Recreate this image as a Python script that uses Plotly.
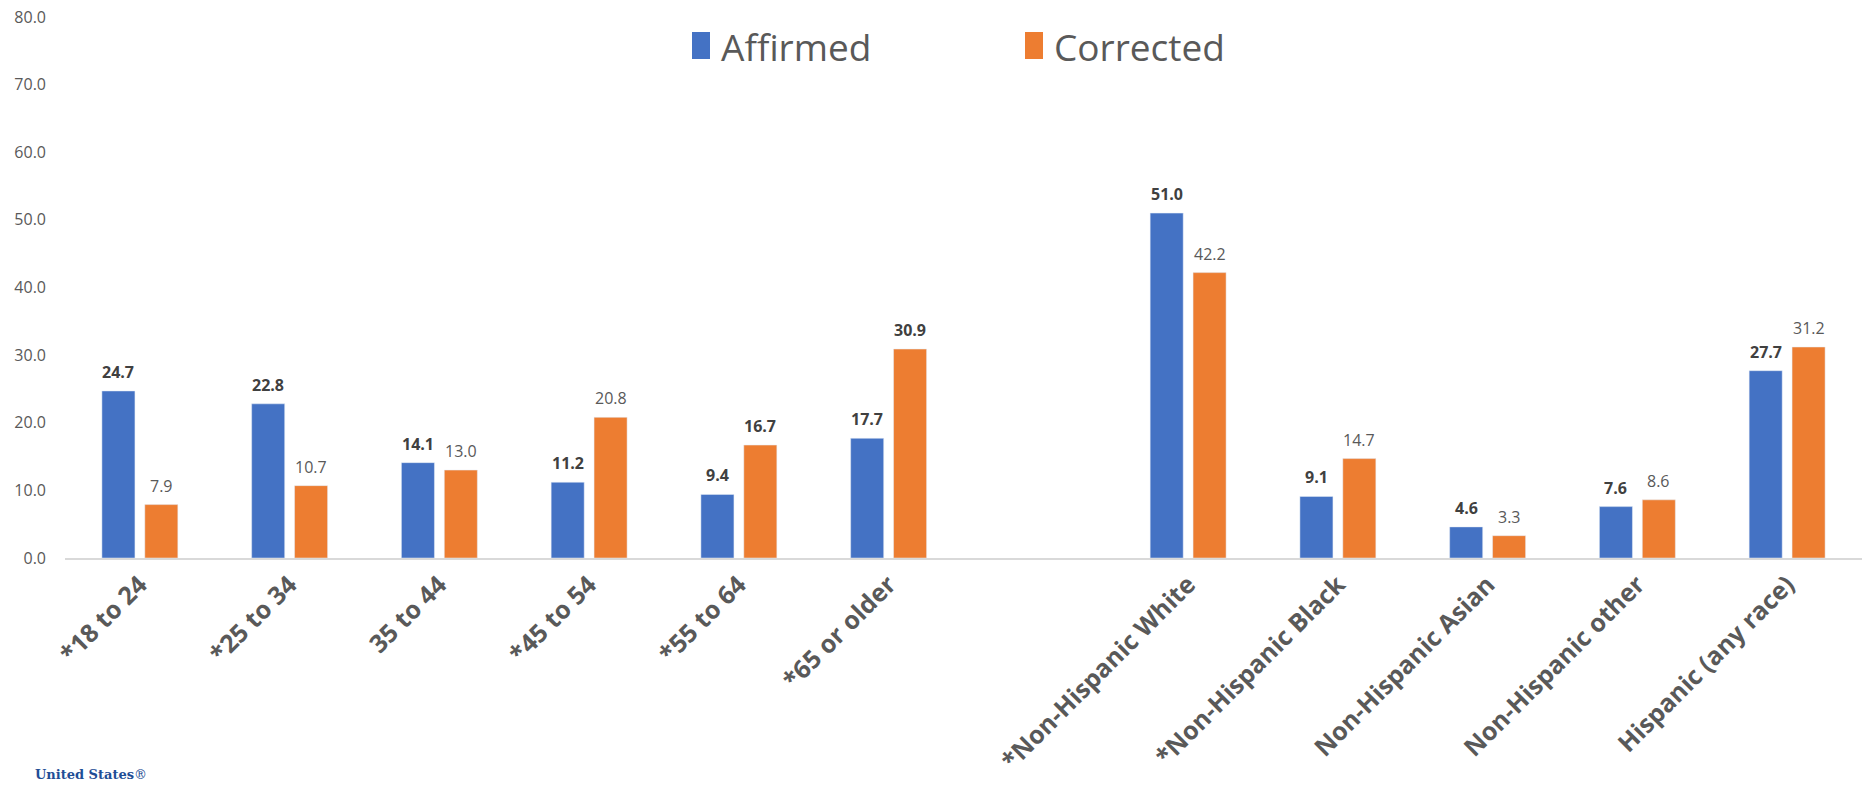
import plotly.graph_objects as go

# Category labels (one blank slot separates age groups from race groups)
categories = ["*18 to 24", "*25 to 34", "35 to 44", "*45 to 54", "*55 to 64", "*65 or older",
              " ",
              "*Non-Hispanic White", "*Non-Hispanic Black", "Non-Hispanic Asian",
              "Non-Hispanic other", "Hispanic (any race)"]

affirmed = [24.7, 22.8, 14.1, 11.2, 9.4, 17.7, None, 51.0, 9.1, 4.6, 7.6, 27.7]
corrected = [7.9, 10.7, 13.0, 20.8, 16.7, 30.9, None, 42.2, 14.7, 3.3, 8.6, 31.2]
corrected_bold = [False, False, False, False, True, True, False, False, False, False, False, False]

y_ticks = [0, 10, 20, 30, 40, 50, 60, 70, 80]

BLUE = "#4472C4"
ORANGE = "#ED7D31"
DARK = "#404040"
GRAY = "#595959"
FONT = "Open Sans"

W, H = 1864, 785
ML, MR, MT, MB = 65, 2, 17, 227
PW, PH = W - ML - MR, H - MT - MB


def px_x(p):
    return (p - ML) / PW


def px_y(p):
    return (H - MB - p) / PH


fig = go.Figure()
fig.add_trace(go.Bar(name="Affirmed", x=categories, y=affirmed, marker_color=BLUE,
                     showlegend=False))
fig.add_trace(go.Bar(name="Corrected", x=categories, y=corrected, marker_color=ORANGE,
                     showlegend=False))

slot = PW / len(categories) * (1 - 0.427) / 2
annotations = []
for cat, a, c, cb in zip(categories, affirmed, corrected, corrected_bold):
    if a is not None:
        annotations.append(dict(x=cat, y=a, xref="x", yref="y", text=f"<b>{a:.1f}</b>",
                                showarrow=False, yanchor="bottom", xshift=-slot / 2, yshift=6,
                                font=dict(family=FONT, size=16, color=DARK)))
    if c is not None:
        txt = f"<b>{c:.1f}</b>" if cb else f"{c:.1f}"
        annotations.append(dict(x=cat, y=c, xref="x", yref="y", text=txt,
                                showarrow=False, yanchor="bottom", xshift=slot / 2, yshift=6,
                                font=dict(family=FONT, size=16, color=DARK if cb else GRAY)))

# Legend drawn at the top centre
legend_items = [("Affirmed", BLUE, 692), ("Corrected", ORANGE, 1025)]
shapes = []
for name, color, x0 in legend_items:
    shapes.append(dict(type="rect", xref="paper", yref="paper",
                       x0=px_x(x0), x1=px_x(x0 + 18), y0=px_y(59), y1=px_y(32),
                       fillcolor=color, line_width=0))
    annotations.append(dict(x=px_x(x0 + 27), y=px_y(46), xref="paper", yref="paper",
                            text=name, showarrow=False, xanchor="left", yanchor="middle",
                            font=dict(family=FONT, size=37, color=GRAY)))

# Agency wordmark at the lower left edge
annotations.append(dict(x=px_x(33), y=px_y(784), xref="paper", yref="paper",
                        text="<b>United States</b>®", showarrow=False, xanchor="left",
                        yanchor="bottom", font=dict(family="DejaVu Serif", size=13,
                                                    color="#1F4E96")))

fig.update_layout(
    width=W, height=H,
    margin=dict(l=ML, r=MR, t=MT, b=MB),
    paper_bgcolor="white", plot_bgcolor="white",
    barmode="group", bargap=0.427, bargroupgap=0.23,
    annotations=annotations, shapes=shapes,
    xaxis=dict(type="category", categoryorder="array", categoryarray=categories,
               tickangle=-45, showgrid=False, showline=True, linecolor="#D9D9D9",
               linewidth=2, ticks="", zeroline=False, ticklabelstandoff=0,
               automargin=False,
               tickfont=dict(family=FONT, size=25, color=GRAY, weight="bold")),
    yaxis=dict(range=[0, 80], tickvals=y_ticks, ticktext=[f"{v:.1f}" for v in y_ticks],
               showgrid=False, zeroline=False, showline=False, ticks="",
               ticklabelstandoff=18, automargin=False,
               tickfont=dict(family=FONT, size=16, color=GRAY)),
)

fig.write_html("out.html")
